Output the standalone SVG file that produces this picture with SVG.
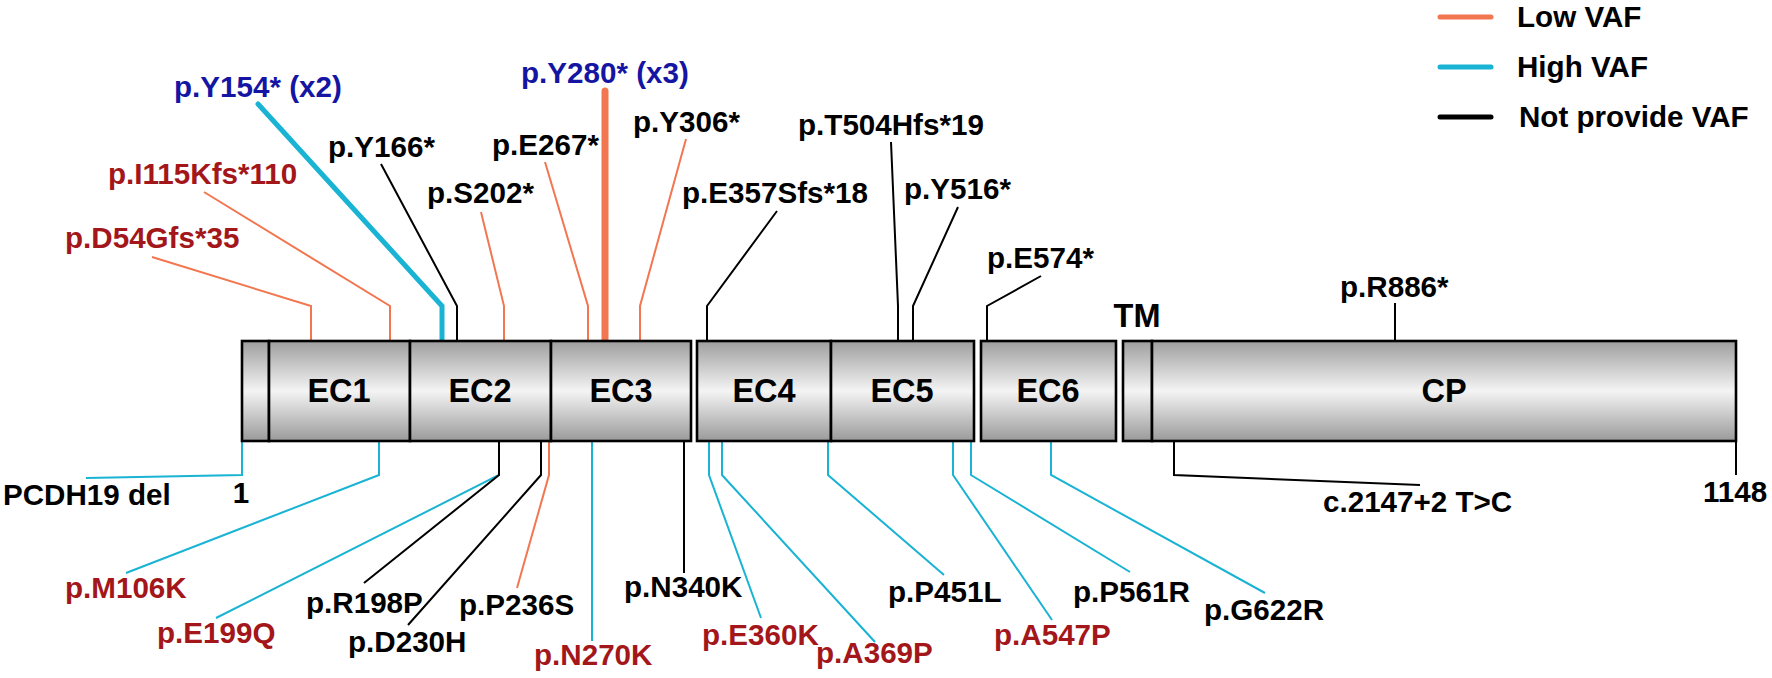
<svg xmlns="http://www.w3.org/2000/svg" width="1772" height="678" viewBox="0 0 1772 678">
<defs>
<linearGradient id="g" x1="0" y1="0" x2="0" y2="1">
<stop offset="0" stop-color="#9e9e9e"/>
<stop offset="0.5" stop-color="#f4f4f4"/>
<stop offset="1" stop-color="#9a9a9a"/>
</linearGradient>
<style>
text{font-family:"Liberation Sans",Arial,sans-serif;font-weight:bold;font-size:29.6px;fill:#000}
.dom{font-size:32.5px;text-anchor:middle}
.red{fill:#a3161a}
.blue{fill:#1515a3}
.box{fill:url(#g);stroke:#000;stroke-width:2.6}
.lo{fill:none;stroke:#f2764f;stroke-width:2}
.hi{fill:none;stroke:#19b3d3;stroke-width:2}
.na{fill:none;stroke:#000;stroke-width:2}
.lg{stroke-width:5;stroke-linecap:round}
</style>
</defs>
<rect width="1772" height="678" fill="#fff"/>

<g id="connectors">
<polyline class="lo" points="152,257 311,306 311,341"/>
<polyline class="lo" points="204,192 390,306 390,341"/>
<polyline class="hi" points="258,104 442,306 442,341" style="stroke-width:5;stroke-linecap:round"/>
<polyline class="na" points="381,164 457,306 457,341"/>
<polyline class="lo" points="481,212 504,306 504,341"/>
<polyline class="lo" points="545,162 588,306 588,341"/>
<line class="lo" x1="605" y1="91" x2="605" y2="341" style="stroke-width:7;stroke-linecap:round"/>
<polyline class="lo" points="686,139 640,306 640,341"/>
<polyline class="na" points="777,211 707,306 707,341"/>
<polyline class="na" points="891,142 898,306 898,341"/>
<polyline class="na" points="958,207 913,306 913,341"/>
<polyline class="na" points="1041,276 987,306 987,341"/>
<line class="na" x1="1395" y1="303" x2="1395" y2="341"/>
<polyline class="hi" points="242,441 242,475 86,478"/>
<line class="na" x1="1736" y1="441" x2="1736" y2="475"/>
<polyline class="hi" points="379,441 379,475 126,573"/>
<polyline class="hi" points="499,441 499,475 216,618"/>
<polyline class="na" points="499,441 499,475 364,583"/>
<polyline class="na" points="541,441 541,475 408,625"/>
<polyline class="lo" points="549,441 549,475 517,588"/>
<line class="hi" x1="592" y1="441" x2="592" y2="641"/>
<line class="na" x1="684" y1="441" x2="684" y2="573"/>
<polyline class="hi" points="709,441 709,475 761,618"/>
<polyline class="hi" points="722,441 722,475 875,642"/>
<polyline class="hi" points="828,441 828,475 944,575"/>
<polyline class="hi" points="953,441 953,475 1052,620"/>
<polyline class="hi" points="971,441 971,475 1130,572"/>
<polyline class="hi" points="1051,441 1051,475 1265,593"/>
<polyline class="na" points="1174,441 1174,475 1420,485"/>
</g>

<g id="protein">
<g id="sp"><rect class="box" x="242" y="341" width="27" height="100"/></g>
<g id="ec1"><rect class="box" x="269" y="341" width="141" height="100"/><text class="dom" x="339" y="402">EC1</text></g>
<g id="ec2"><rect class="box" x="410" y="341" width="141" height="100"/><text class="dom" x="480" y="402">EC2</text></g>
<g id="ec3"><rect class="box" x="551" y="341" width="140" height="100"/><text class="dom" x="621" y="402">EC3</text></g>
<g id="ec4"><rect class="box" x="697" y="341" width="134" height="100"/><text class="dom" x="764" y="402">EC4</text></g>
<g id="ec5"><rect class="box" x="831" y="341" width="143" height="100"/><text class="dom" x="902" y="402">EC5</text></g>
<g id="ec6"><rect class="box" x="981" y="341" width="135" height="100"/><text class="dom" x="1048" y="402">EC6</text></g>
<g id="tm"><rect class="box" x="1123" y="341" width="29" height="100"/><text class="dom" x="1137" y="327">TM</text></g>
<g id="cp"><rect class="box" x="1152" y="341" width="584" height="100"/><text class="dom" x="1444" y="402">CP</text></g>
</g>

<g id="pos-1"><text x="241" y="503" style="text-anchor:middle">1</text></g>
<g id="pos-1148"><text x="1735" y="502" style="text-anchor:middle">1148</text></g>

<g id="m-D54"><text class="red" x="65" y="248">p.D54Gfs*35</text></g>
<g id="m-I115"><text class="red" x="108" y="184">p.I115Kfs*110</text></g>
<g id="m-Y154"><text class="blue" x="174" y="97">p.Y154* (x2)</text></g>
<g id="m-Y166"><text x="328" y="157">p.Y166*</text></g>
<g id="m-S202"><text x="427" y="203">p.S202*</text></g>
<g id="m-E267"><text x="492" y="155">p.E267*</text></g>
<g id="m-Y280"><text class="blue" x="521" y="83">p.Y280* (x3)</text></g>
<g id="m-Y306"><text x="633" y="132">p.Y306*</text></g>
<g id="m-E357"><text x="682" y="203">p.E357Sfs*18</text></g>
<g id="m-T504"><text x="798" y="135">p.T504Hfs*19</text></g>
<g id="m-Y516"><text x="904" y="199">p.Y516*</text></g>
<g id="m-E574"><text x="987" y="268">p.E574*</text></g>
<g id="m-R886"><text x="1340" y="297">p.R886*</text></g>

<g id="m-del"><text x="3" y="505">PCDH19 del</text></g>
<g id="m-M106"><text class="red" x="65" y="598">p.M106K</text></g>
<g id="m-E199"><text class="red" x="157" y="643">p.E199Q</text></g>
<g id="m-R198"><text x="306" y="613">p.R198P</text></g>
<g id="m-D230"><text x="348" y="652">p.D230H</text></g>
<g id="m-P236"><text x="459" y="615">p.P236S</text></g>
<g id="m-N270"><text class="red" x="534" y="665">p.N270K</text></g>
<g id="m-N340"><text x="624" y="597">p.N340K</text></g>
<g id="m-E360"><text class="red" x="702" y="645">p.E360K</text></g>
<g id="m-A369"><text class="red" x="816" y="663">p.A369P</text></g>
<g id="m-P451"><text x="888" y="602">p.P451L</text></g>
<g id="m-A547"><text class="red" x="994" y="645">p.A547P</text></g>
<g id="m-P561"><text x="1073" y="602">p.P561R</text></g>
<g id="m-G622"><text x="1204" y="620">p.G622R</text></g>
<g id="m-c2147"><text x="1323" y="512">c.2147+2 T&gt;C</text></g>

<g id="legend">
<line class="lo lg" x1="1440" y1="17" x2="1491" y2="17"/>
<text x="1517" y="27">Low VAF</text>
<line class="hi lg" x1="1440" y1="67" x2="1491" y2="67"/>
<text x="1517" y="77">High VAF</text>
<line class="na lg" x1="1440" y1="117" x2="1491" y2="117"/>
<text x="1519" y="127">Not provide VAF</text>
</g>
</svg>
